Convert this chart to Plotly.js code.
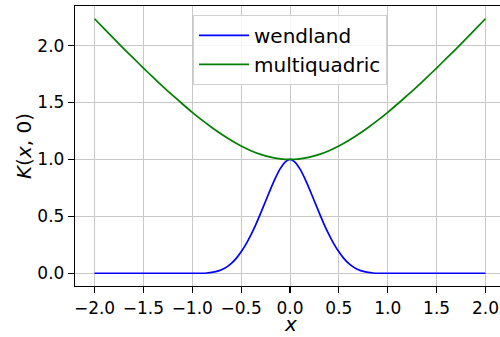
<!DOCTYPE html>
<html>
<head>
<meta charset="utf-8">
<script src="https://cdn.plot.ly/plotly-3.0.1.min.js"></script>
<style>
html,body{margin:0;padding:0;overflow:hidden;background:#fff;width:500px;height:337px;}
#chart{width:505px;height:337px;}
</style>
</head>
<body>
<div id="chart"></div>
<script>
// Wendland kernel
const wendlandX = [-2.0, -1.0, -0.95, -0.9, -0.85, -0.8, -0.75, -0.7, -0.65, -0.6, -0.55, -0.5, -0.45, -0.4, -0.35, -0.3, -0.25, -0.2, -0.15, -0.1, -0.05,
  0.0, 0.05, 0.1, 0.15, 0.2, 0.25, 0.3, 0.35, 0.4, 0.45, 0.5, 0.55, 0.6, 0.65, 0.7, 0.75, 0.8, 0.85, 0.9, 0.95, 1.0, 2.0];
const wendlandY = [0.0, 0.0, 0.0, 0.0, 0.002, 0.007, 0.016, 0.031, 0.054, 0.087, 0.131, 0.188, 0.256, 0.337, 0.428, 0.528, 0.633, 0.737, 0.835, 0.919, 0.977,
  1.0, 0.977, 0.919, 0.835, 0.737, 0.633, 0.528, 0.428, 0.337, 0.256, 0.188, 0.131, 0.087, 0.054, 0.031, 0.016, 0.007, 0.002, 0.0, 0.0, 0.0, 0.0];

// Multiquadric kernel
const multiX = [-2.0, -1.9, -1.8, -1.7, -1.6, -1.5, -1.4, -1.3, -1.2, -1.1, -1.0, -0.9, -0.8, -0.7, -0.6, -0.5, -0.4, -0.3, -0.2, -0.1,
  0.0, 0.1, 0.2, 0.3, 0.4, 0.5, 0.6, 0.7, 0.8, 0.9, 1.0, 1.1, 1.2, 1.3, 1.4, 1.5, 1.6, 1.7, 1.8, 1.9, 2.0];
const multiY = [2.236, 2.147, 2.059, 1.972, 1.887, 1.803, 1.720, 1.640, 1.562, 1.487, 1.414, 1.345, 1.281, 1.221, 1.166, 1.118, 1.077, 1.044, 1.020, 1.005,
  1.0, 1.005, 1.020, 1.044, 1.077, 1.118, 1.166, 1.221, 1.281, 1.345, 1.414, 1.487, 1.562, 1.640, 1.720, 1.803, 1.887, 1.972, 2.059, 2.147, 2.236];

const seriesNames = ["wendland", "multiquadric"];
const xTickVals = [-2.0, -1.5, -1.0, -0.5, 0.0, 0.5, 1.0, 1.5, 2.0];
const yTickVals = [0.0, 0.5, 1.0, 1.5, 2.0];
const xTitle = "<i>x</i>";
const yTitle = "<i>K</i>(<i>x</i>, 0)";

const FONT = "DejaVu Sans, Liberation Sans, sans-serif";

const traces = [
  {x: wendlandX, y: wendlandY, name: seriesNames[0], type: "scatter", mode: "lines",
   line: {color: "#0000ff", width: 1.7, shape: "spline", smoothing: 0.6}},
  {x: multiX, y: multiY, name: seriesNames[1], type: "scatter", mode: "lines",
   line: {color: "#008000", width: 1.7, shape: "spline", smoothing: 0.6}}
];

const axisCommon = {
  showgrid: true, gridcolor: "#c8c8c8", gridwidth: 1,
  zeroline: false, showline: true, linecolor: "#000", linewidth: 1.2, mirror: true,
  ticks: "outside", ticklen: 6, tickwidth: 1.2, tickcolor: "#000",
  tickfont: {family: FONT, size: 17, color: "#000"},
  tickformat: ".1f"
};

const layout = {
  width: 505, height: 337,
  margin: {l: 75, r: 0, t: 6, b: 51},
  paper_bgcolor: "#fff", plot_bgcolor: "#fff",
  showlegend: true,
  legend: {x: 0.5, xanchor: "center", y: 0.968, yanchor: "top",
    itemwidth: 50,
    bgcolor: "rgba(255,255,255,0.85)", bordercolor: "#d0d0d0", borderwidth: 1,
    font: {family: FONT, size: 20, color: "#000"}},
  xaxis: Object.assign({}, axisCommon, {
    range: [-2.2, 2.2], tickvals: xTickVals
  }),
  yaxis: Object.assign({}, axisCommon, {
    range: [-0.112, 2.348], tickvals: yTickVals
  }),
  annotations: [
    {text: xTitle, xref: "paper", yref: "paper", x: 0.5, y: -0.182, xanchor: "center", yanchor: "bottom",
     borderpad: 0, showarrow: false, font: {family: FONT, size: 20, color: "#000"}},
    {text: yTitle, xref: "paper", yref: "paper", x: -0.1186, y: 0.5, xanchor: "center", yanchor: "middle",
     textangle: -90, showarrow: false, font: {family: FONT, size: 20, color: "#000"}}
  ]
};

Plotly.newPlot("chart", traces, layout, {displayModeBar: false, staticPlot: true});
</script>
</body>
</html>
